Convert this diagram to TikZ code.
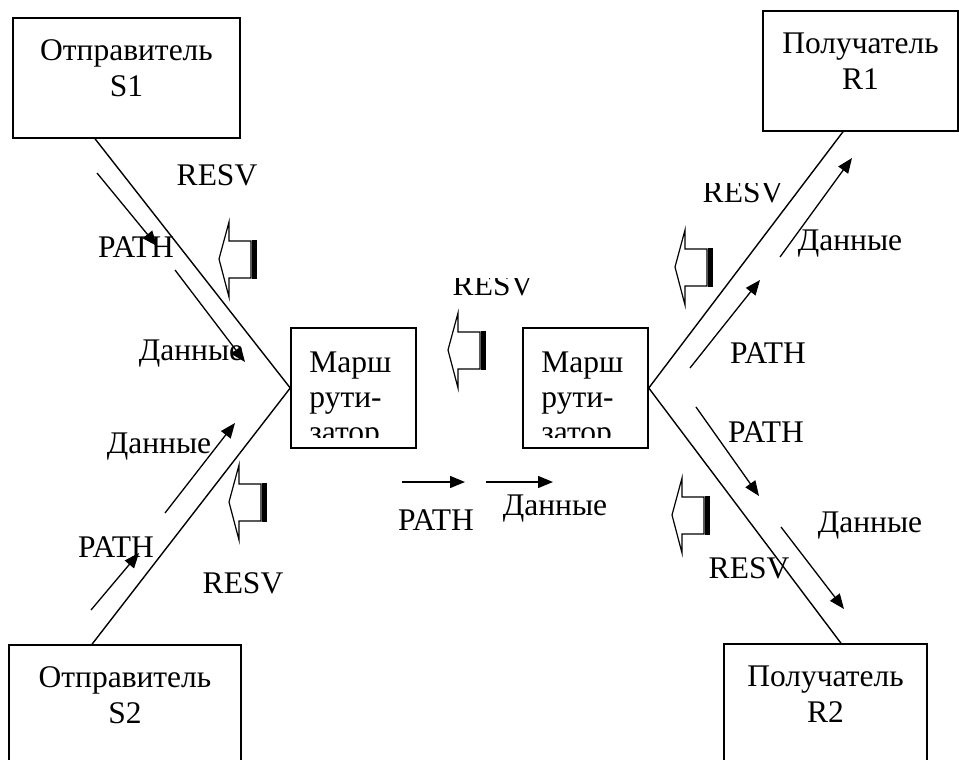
\documentclass[tikz,border=0pt]{standalone}
\usepackage{fontspec}
\setmainfont{Liberation Serif}
\usetikzlibrary{arrows.meta,positioning}

% hollow block arrow with a barred tail
\tikzset{
  resvarrow/.pic={
    \draw[line width=1.2pt] (0,0) -- (10,-37) -- (10,-18) -- (32,-18) -- (32,19)
      -- (10,19) -- (10,38) -- cycle;
    \fill (33.4,-18.6) rectangle (38,19.6);
  }
}

\begin{document}
\begin{tikzpicture}[
  x=1pt, y=-1pt,
  font=\fontsize{31.5}{36}\selectfont,
  box/.style={draw, line width=1.5pt, inner sep=0pt},
  boxtext/.style={align=center, inner sep=0pt},
  rttext/.style={align=left, inner sep=0pt, font=\fontsize{31.5}{35}\selectfont},
  link/.style={line width=1.4pt},
  flow/.style={-{Triangle[length=15pt,width=12pt]}, line width=1.3pt},
  lbl/.style={inner sep=0pt, anchor=base}
]
  \useasboundingbox (0,0) rectangle (959,760);
  \clip (0,0) rectangle (959,760);

  % senders and receivers
  \node[box, minimum width=227pt, minimum height=120pt] (s1) at (126.5,78) {};
  \node[box, minimum width=232pt, minimum height=144pt] (s2) at (125,717) {};
  \node[box, minimum width=195pt, minimum height=120pt] (r1) at (860.5,71) {};
  \node[box, minimum width=203pt, minimum height=144pt] (r2) at (825.5,716) {};

  \node[boxtext, below=22pt of s1.north] (s1t) {Отправитель\\S1};
  \node[boxtext, below=22pt of s2.north] (s2t) {Отправитель\\S2};
  \node[boxtext, below=22pt of r1.north] (r1t) {Получатель\\R1};
  \node[boxtext, below=22pt of r2.north] (r2t) {Получатель\\R2};

  % routers
  \node[box, minimum width=125pt, minimum height=120pt] (rt1) at (353.5,388) {};
  \node[box, minimum width=125pt, minimum height=120pt] (rt2) at (585.5,388) {};
  \begin{scope}
    \clip (291,330) rectangle (416,437);
    \node[rttext, below right=24pt and 19pt of rt1.north west] (rt1t) {Марш\\рути-\\затор};
  \end{scope}
  \begin{scope}
    \clip (523,330) rectangle (648,437);
    \node[rttext, below right=24pt and 19pt of rt2.north west] (rt2t) {Марш\\рути-\\затор};
  \end{scope}

  % links
  \draw[link] ([xshift=-31.5pt]s1.south) -- (rt1.west);
  \draw[link] ([xshift=-33pt]s2.north) -- (rt1.west);
  \draw[link] ([xshift=-17.5pt]r1.south) -- (rt2.east);
  \draw[link] ([xshift=15.5pt]r2.north) -- (rt2.east);

  % PATH and data flow
  \draw[flow] (97,173) -- (157,246);
  \draw[flow] (175,270) -- (245,362);
  \draw[flow] (91,610) -- (139,553);
  \draw[flow] (165,513) -- (235,423);
  \draw[flow] (402,482) -- (465,482);
  \draw[flow] (486,482) -- (553,482);
  \draw[flow] (690,368) -- (760,280);
  \draw[flow] (780,257) -- (852,158);
  \draw[flow] (696,407) -- (759,496);
  \draw[flow] (781,527) -- (844,609);

  % RESV going back
  \pic at (219,259) {resvarrow};
  \pic at (229,502) {resvarrow};
  \pic at (448,350) {resvarrow};
  \pic at (675,267) {resvarrow};
  \pic at (672,515) {resvarrow};

  % labels
  \node[lbl] (resv1) at (217,185) {RESV};
  \node[lbl] (path1) at (136,257) {PATH};
  \node[lbl] (data1) at (191,360) {Данные};
  \node[lbl] (data2) at (159,453) {Данные};
  \node[lbl] (path2) at (116,557) {PATH};
  \node[lbl] (resv2) at (243,593) {RESV};
  \node[lbl] (pathc) at (436,530) {PATH};
  \node[lbl] (datac) at (555,515) {Данные};
  \node[lbl] (data3) at (850,250) {Данные};
  \node[lbl] (path3) at (768,363) {PATH};
  \node[lbl] (path4) at (766,442) {PATH};
  \node[lbl] (data4) at (870,532) {Данные};
  \node[lbl] (resv4) at (749,578) {RESV};
  \begin{scope}
    \clip (440,278) rectangle (560,310);
    \node[lbl] (resvc) at (493,295) {RESV};
  \end{scope}
  \begin{scope}
    \clip (690,183) rectangle (800,215);
    \node[lbl] (resv3) at (743,202) {RESV};
  \end{scope}
\end{tikzpicture}
\end{document}
